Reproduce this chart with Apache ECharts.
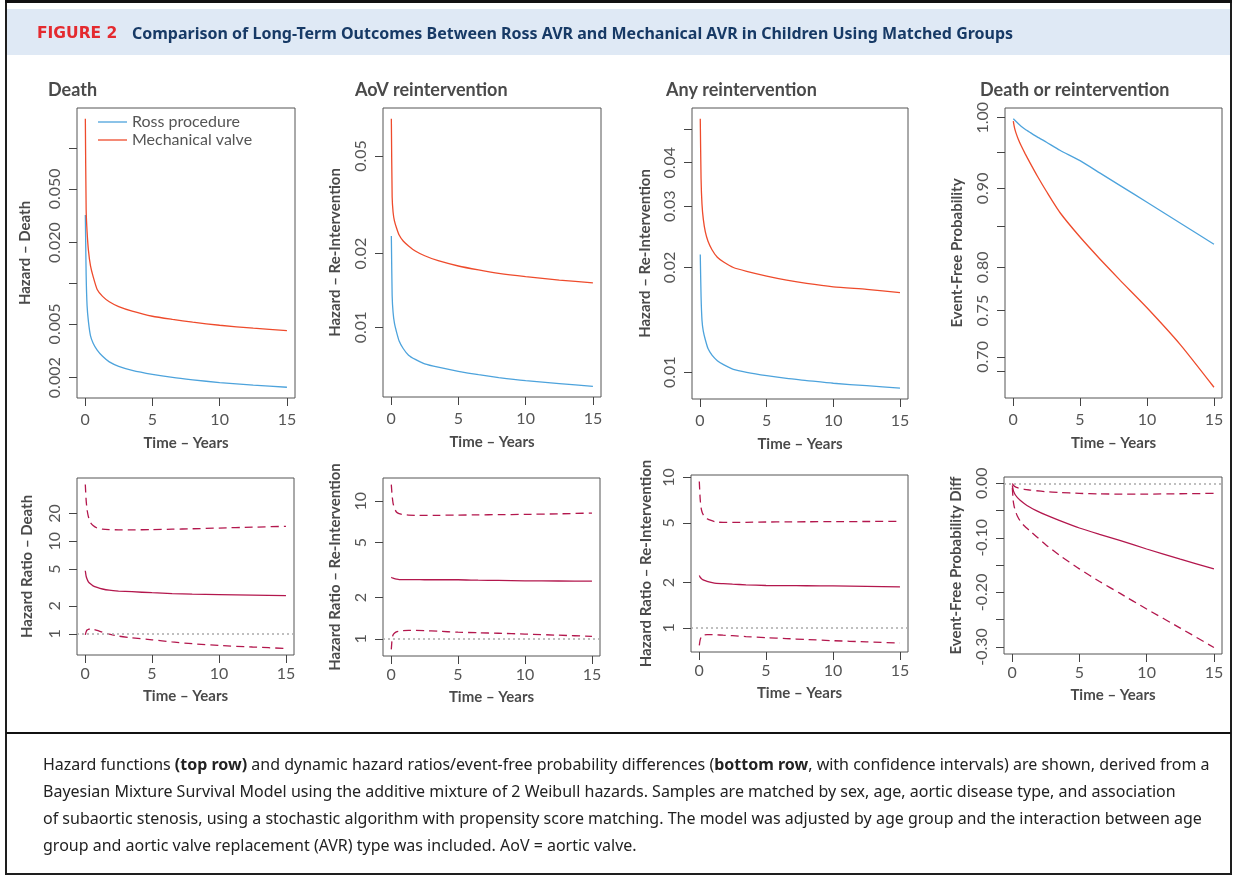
<!DOCTYPE html>
<html>
<head>
<meta charset="utf-8">
<title>Figure 2</title>
<script src="https://cdn.jsdelivr.net/npm/echarts@6/dist/echarts.min.js"></script>
<style>
  html, body { margin: 0; padding: 0; background: #fff; }
  #chart { width: 1236px; height: 875px; }
</style>
</head>
<body>
<div id="chart"></div>
<script>
// time grid (years), shared by every panel
var years = [0.02, 0.08, 0.15, 0.25, 0.4, 0.6, 0.9, 1.3, 1.8, 2.5, 3.5, 5, 6.5, 8, 10, 12.5, 15];

// top row: hazards and event-free probability
var deathRoss = [0.032, 0.0115, 0.0068, 0.0052, 0.0041, 0.0036, 0.0032, 0.00288, 0.00262, 0.00243, 0.00227, 0.00212, 0.00201, 0.00193, 0.00184, 0.00176, 0.0017];
var deathMech = [0.165, 0.035, 0.024, 0.0175, 0.0135, 0.0112, 0.0090, 0.0080, 0.0073, 0.00672, 0.00622, 0.0057, 0.0054, 0.00515, 0.00489, 0.00465, 0.00446];
var aovRoss = [0.0236, 0.0135, 0.0115, 0.0104, 0.0096, 0.0088, 0.0082, 0.0077, 0.0074, 0.0071, 0.00688, 0.00662, 0.00641, 0.00624, 0.00606, 0.0059, 0.00575];
var aovMech = [0.071, 0.034, 0.0295, 0.0272, 0.0255, 0.0238, 0.0225, 0.0215, 0.0205, 0.0196, 0.0187, 0.0178, 0.01715, 0.0166, 0.0161, 0.0156, 0.0152];
var anyRoss = [0.0218, 0.0165, 0.0141, 0.0131, 0.0124, 0.0117, 0.0112, 0.0108, 0.0105, 0.0102, 0.0100, 0.00978, 0.0096, 0.00947, 0.0093, 0.00915, 0.0090];
var anyMech = [0.0535, 0.036, 0.0304, 0.0275, 0.0253, 0.0238, 0.0225, 0.0214, 0.0207, 0.0200, 0.0195, 0.0189, 0.0184, 0.0180, 0.0176, 0.0173, 0.01695];
var efpRoss = [0.9985, 0.9973, 0.996, 0.994, 0.991, 0.9874, 0.983, 0.978, 0.9719, 0.9641, 0.9527, 0.938, 0.9207, 0.9037, 0.8816, 0.8544, 0.8281];
var efpMech = [0.995, 0.988, 0.982, 0.9758, 0.968, 0.9593, 0.9479, 0.9338, 0.9171, 0.8958, 0.8682, 0.837, 0.8098, 0.7846, 0.7532, 0.7127, 0.669];

// bottom row: hazard ratios / probability difference with confidence bands
var hrDeath = [4.8, 4.2, 3.9, 3.65, 3.47, 3.3, 3.17, 3.05, 2.96, 2.9, 2.85, 2.78, 2.72, 2.68, 2.65, 2.62, 2.58];
var hrDeathHi = [41, 28, 22, 18.5, 16, 14.8, 13.9, 13.5, 13.35, 13.3, 13.3, 13.35, 13.5, 13.65, 13.9, 14.2, 14.5];
var hrDeathLo = [0.975, 1.05, 1.10, 1.12, 1.13, 1.12, 1.09, 1.04, 0.99, 0.945, 0.905, 0.862, 0.818, 0.782, 0.749, 0.72, 0.695];
var hrAov = [2.81, 2.78, 2.76, 2.74, 2.72, 2.70, 2.70, 2.70, 2.70, 2.69, 2.69, 2.69, 2.67, 2.66, 2.64, 2.635, 2.63];
var hrAovHi = [13.2, 11.0, 9.7, 8.9, 8.35, 8.12, 8.0, 7.93, 7.9, 7.88, 7.9, 7.93, 7.96, 7.99, 8.02, 8.1, 8.2];
var hrAovLo = [0.84, 1.0, 1.07, 1.1, 1.125, 1.138, 1.148, 1.153, 1.155, 1.15, 1.138, 1.12, 1.11, 1.1, 1.086, 1.065, 1.045];
var hrAny = [2.23, 2.18, 2.14, 2.1, 2.07, 2.04, 2.01, 1.98, 1.97, 1.955, 1.935, 1.915, 1.912, 1.908, 1.905, 1.89, 1.876];
var hrAnyHi = [9.4, 7.3, 6.3, 5.8, 5.5, 5.32, 5.18, 5.06, 5.03, 5.03, 5.04, 5.06, 5.07, 5.08, 5.09, 5.1, 5.12];
var hrAnyLo = [0.765, 0.83, 0.866, 0.888, 0.9, 0.904, 0.903, 0.9, 0.895, 0.888, 0.876, 0.862, 0.85, 0.838, 0.823, 0.808, 0.794];
var efpDiff = [-0.004, -0.012, -0.0168, -0.0215, -0.0262, -0.031, -0.037, -0.0435, -0.050, -0.058, -0.068, -0.082, -0.0935, -0.1045, -0.1205, -0.139, -0.157];
var efpDiffHi = [-0.0005, -0.003, -0.005, -0.0065, -0.008, -0.0095, -0.011, -0.0123, -0.0137, -0.0153, -0.0168, -0.0185, -0.0194, -0.0199, -0.0198, -0.0192, -0.0185];
var efpDiffLo = [-0.008, -0.031, -0.042, -0.051, -0.0605, -0.069, -0.078, -0.0868, -0.0975, -0.1125, -0.1315, -0.157, -0.180, -0.2015, -0.2305, -0.2655, -0.301];

// ticks and labels
var xTicks = [0, 5, 10, 15];
var deathTicks = [0.002, 0.005, 0.01, 0.02, 0.05, 0.1];
var deathLabels = [0.002, 0.005, 0.02, 0.05];
var aovTicks = [0.01, 0.02, 0.05];
var anyTicks = [0.01, 0.02, 0.03, 0.04, 0.05];
var anyLabels = [0.01, 0.02, 0.03, 0.04];
var efpTicks = [0.685, 0.7, 0.75, 0.8, 0.85, 0.9, 0.95, 1];
var efpLabels = [0.7, 0.75, 0.8, 0.9, 1];
var hrDeathTicks = [1, 2, 5, 10, 20];
var hrTicks = [1, 2, 5, 10];
var diffTicks = [0, -0.05, -0.1, -0.15, -0.2, -0.25, -0.3];
var diffLabels = [0, -0.1, -0.2, -0.3];

var panelTitles = ['Death', 'AoV reintervention', 'Any reintervention', 'Death or reintervention'];
var seriesNames = ['Ross procedure', 'Mechanical valve'];

var FONT = 'Lato, "Noto Sans", sans-serif';
var BLUE = '#4da3dc', RED = '#ee4b2c', WINE = '#b3174d';
var TXT = '#4a4a4a';

// R style 4% padding of the data range
function logRange (arrs) {
  var all = [].concat.apply([], arrs);
  var lo = Math.log10(Math.min.apply(null, all));
  var hi = Math.log10(Math.max.apply(null, all));
  var d = (hi - lo) * 0.04;
  return [Math.pow(10, lo - d), Math.pow(10, hi + d)];
}
function linRange (arrs) {
  var all = [].concat.apply([], arrs);
  var lo = Math.min.apply(null, all), hi = Math.max.apply(null, all);
  var d = (hi - lo) * 0.04;
  return [lo - d, hi + d];
}

var boxes = [
  { left: 77, top: 108, width: 218, height: 290 },
  { left: 383, top: 108, width: 218, height: 289 },
  { left: 692, top: 108, width: 216, height: 291 },
  { left: 1005, top: 108, width: 217, height: 290 },
  { left: 77, top: 478, width: 217, height: 177 },
  { left: 383, top: 478, width: 217, height: 178 },
  { left: 691, top: 475, width: 217, height: 177 },
  { left: 1004, top: 477, width: 218, height: 177 }
];

var grids = [], xAxes = [], yAxes = [], series = [];

boxes.forEach(function (b, i) {
  grids.push({
    left: b.left, top: b.top, width: b.width, height: b.height,
    show: true, borderColor: '#555', borderWidth: 1,
    outerBoundsMode: 'none'
  });
  var bottomRow = i >= 4;
  xAxes.push({
    type: 'value', gridIndex: i, min: -0.6, max: 15.6,
    axisLine: { show: false, onZero: false },
    splitLine: { show: false },
    axisTick: { length: 8, lineStyle: { color: '#444' }, customValues: xTicks },
    axisLabel: { customValues: xTicks, margin: bottomRow ? 11 : 14, fontSize: 16, color: '#555', fontFamily: FONT },
    name: 'Time \u2013 Years', nameLocation: 'middle', nameGap: bottomRow ? 34 : 38,
    nameTextStyle: { fontFamily: FONT, fontWeight: 'bold', fontSize: 15, color: TXT }
  });
});

function yAxis (i, type, range, ticks, labels, digits, name, gap) {
  return {
    type: type, logBase: 10, gridIndex: i, min: range[0], max: range[1],
    axisLine: { show: false, onZero: false },
    splitLine: { show: false },
    axisTick: { length: 8, lineStyle: { color: '#444' }, customValues: ticks },
    axisLabel: {
      customValues: labels, rotate: 90, margin: 14, fontSize: 16, color: '#555', fontFamily: FONT,
      formatter: function (v) { return digits == null ? String(v) : Number(v).toFixed(digits); }
    },
    name: name, nameLocation: 'middle', nameGap: gap,
    nameTextStyle: { fontFamily: FONT, fontWeight: 'bold', fontSize: 15, color: TXT }
  };
}

yAxes.push(yAxis(0, 'log', logRange([deathRoss, deathMech]), deathTicks, deathLabels, 3, 'Hazard \u2013 Death', 44));
yAxes.push(yAxis(1, 'log', logRange([aovRoss, aovMech]), aovTicks, aovTicks, 2, 'Hazard \u2013 Re-Intervention', 40));
yAxes.push(yAxis(2, 'log', logRange([anyRoss, anyMech]), anyTicks, anyLabels, 2, 'Hazard \u2013 Re-Intervention', 39));
yAxes.push(yAxis(3, 'log', logRange([efpRoss, efpMech]), efpTicks, efpLabels, 2, 'Event-Free Probability', 40));
yAxes.push(yAxis(4, 'log', logRange([hrDeath, hrDeathHi, hrDeathLo]), hrDeathTicks, hrDeathTicks, null, 'Hazard Ratio \u2013 Death', 42));
yAxes.push(yAxis(5, 'log', logRange([hrAov, hrAovHi, hrAovLo]), hrTicks, hrTicks, null, 'Hazard Ratio \u2013 Re-Intervention', 40));
yAxes.push(yAxis(6, 'log', logRange([hrAny, hrAnyHi, hrAnyLo]), hrTicks, hrTicks, null, 'Hazard Ratio \u2013 Re-Intervention', 37));
yAxes.push(yAxis(7, 'value', linRange([efpDiff, efpDiffHi, efpDiffLo]), diffTicks, diffLabels, 2, 'Event-Free Probability Diff', 40));

function line (name, gi, vals, color, dashed, ref) {
  var s = {
    type: 'line', name: name, xAxisIndex: gi, yAxisIndex: gi,
    data: years.map(function (t, k) { return [t, vals[k]]; }),
    symbol: 'none', silent: true, smooth: 0.2,
    lineStyle: { color: color, width: 1.3, type: dashed ? [8, 5] : 'solid' },
    itemStyle: { color: color }
  };
  if (ref != null) {
    s.markLine = {
      symbol: ['none', 'none'], silent: true, label: { show: false },
      lineStyle: { color: '#aaa', type: [2, 3], width: 1.5 },
      data: [{ yAxis: ref }]
    };
  }
  return s;
}

[[deathRoss, deathMech], [aovRoss, aovMech], [anyRoss, anyMech], [efpRoss, efpMech]].forEach(function (pair, i) {
  series.push(line(seriesNames[0], i, pair[0], BLUE));
  series.push(line(seriesNames[1], i, pair[1], RED));
});

[[hrDeath, hrDeathHi, hrDeathLo, 1], [hrAov, hrAovHi, hrAovLo, 1], [hrAny, hrAnyHi, hrAnyLo, 1], [efpDiff, efpDiffHi, efpDiffLo, 0]].forEach(function (p, j) {
  var gi = j + 4;
  series.push(line('ratio', gi, p[0], WINE, false, p[3]));
  series.push(line('upper', gi, p[1], WINE, true));
  series.push(line('lower', gi, p[2], WINE, true));
});

var titleX = [48, 355, 666, 980];
var titles = panelTitles.map(function (t, i) {
  return {
    text: t, left: titleX[i], top: 80, padding: 0,
    textStyle: { fontFamily: FONT, fontWeight: 'bold', fontSize: 18, lineHeight: 20, color: TXT }
  };
});

titles.push({
  text: 'FIGURE 2', left: 37, top: 25, padding: 0,
  textStyle: { fontFamily: '"DejaVu Sans", sans-serif', fontWeight: 'bold', fontSize: 15.5, lineHeight: 18, color: '#e42a2f' }
});
titles.push({
  text: 'Comparison of Long-Term Outcomes Between Ross AVR and Mechanical AVR in Children Using Matched Groups',
  left: 132, top: 24, padding: 0,
  textStyle: { fontFamily: '"Noto Sans", sans-serif', fontWeight: 'bold', fontSize: 16, lineHeight: 20, color: '#173a66' }
});

var caption =
  '{n|Hazard functions }{b|(top row)}{n| and dynamic hazard ratios/event-free probability differences (}{b|bottom row}{n|, with confidence intervals) are shown, derived from a}\n' +
  '{n|Bayesian Mixture Survival Model using the additive mixture of 2 Weibull hazards. Samples are matched by sex, age, aortic disease type, and association}\n' +
  '{n|of subaortic stenosis, using a stochastic algorithm with propensity score matching. The model was adjusted by age group and the interaction between age}\n' +
  '{n|group and aortic valve replacement (AVR) type was included. AoV = aortic valve.}';

var capFont = '"Noto Sans", sans-serif';
titles.push({
  text: caption, left: 43, top: 752, padding: 0,
  textStyle: {
    fontWeight: 'normal',
    rich: {
      n: { fontFamily: capFont, fontSize: 16, lineHeight: 27, color: '#222', fontWeight: 'normal' },
      b: { fontFamily: capFont, fontSize: 16, lineHeight: 27, color: '#222', fontWeight: 'bold' }
    }
  }
});

var chart = echarts.init(document.getElementById('chart'));
chart.setOption({
  animation: false,
  backgroundColor: '#fff',
  textStyle: { fontFamily: FONT },
  title: titles,
  legend: {
    left: 98, top: 114, padding: 0, orient: 'vertical', selectedMode: false,
    itemWidth: 29, itemHeight: 14, itemGap: 2, symbolKeepAspect: true,
    textStyle: { fontFamily: FONT, fontSize: 16, color: '#555' },
    data: seriesNames.map(function (n) { return { name: n, icon: 'path://M0,0 L29,0 L29,1.3 L0,1.3 Z' }; })
  },
  graphic: [
    { type: 'rect', shape: { x: 7, y: 9, width: 1223, height: 46 }, style: { fill: '#dfe9f5' } },
    { type: 'rect', shape: { x: 6, y: 2, width: 1225, height: 872 }, style: { fill: null, stroke: '#1e1e1e', lineWidth: 2 } },
    { type: 'rect', shape: { x: 5, y: 0, width: 1227, height: 3 }, style: { fill: '#111' } },
    { type: 'line', shape: { x1: 6, y1: 733, x2: 1231, y2: 733 }, style: { stroke: '#111', lineWidth: 2 } }
  ],
  grid: grids,
  xAxis: xAxes,
  yAxis: yAxes,
  series: series
});
</script>
</body>
</html>
